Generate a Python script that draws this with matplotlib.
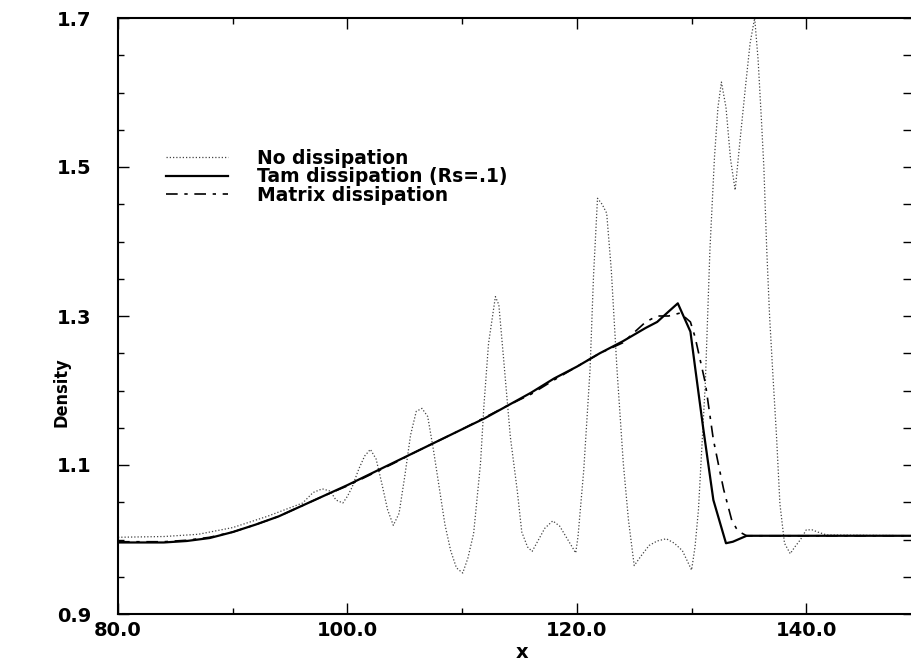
import matplotlib
matplotlib.use("Agg")
import matplotlib.pyplot as plt
from matplotlib.ticker import MultipleLocator, FixedLocator, FormatStrFormatter, NullFormatter

# No dissipation (dotted)
x_none = [80, 84, 87, 90, 93, 96.1, 97.0, 97.8, 98.5, 99.0,
          99.6, 100.0, 100.4, 101.0, 101.5, 102.0, 102.5, 103.0, 103.5, 104.0,
          104.5, 105.0, 105.5, 106.0, 106.5, 107.0, 107.5, 108.0, 108.5, 109.0,
          109.5, 110.05, 110.5, 111.0, 111.6, 111.9, 112.3, 112.9, 113.2, 113.6,
          114.2, 114.8, 115.2, 115.7, 116.1, 116.6, 117.2, 117.9, 118.5, 119.2,
          119.9, 120.1, 120.6, 121.15, 121.45, 121.8, 122.2, 122.6, 123.0, 123.5,
          124.05, 124.5, 125.0, 125.6, 126.3, 127.0, 127.8, 128.5, 129.2, 129.6,
          130.0, 130.3, 130.6, 131.2, 131.6, 132.0, 132.3, 132.6, 133.0, 133.4,
          133.8, 134.2, 134.7, 135.1, 135.5, 135.8, 136.1, 136.3, 136.55, 136.8,
          137.1, 137.4, 137.7, 138.1, 138.6, 139.0, 139.5, 140.0, 140.5, 141.0,
          141.8, 150]
y_none = [1.003, 1.004, 1.007, 1.016, 1.031, 1.049, 1.063, 1.068, 1.065, 1.053,
          1.049, 1.058, 1.070, 1.095, 1.112, 1.121, 1.108, 1.075, 1.040, 1.019,
          1.035, 1.085, 1.140, 1.172, 1.176, 1.165, 1.120, 1.070, 1.020, 0.985,
          0.962, 0.955, 0.975, 1.008, 1.102, 1.180, 1.263, 1.326, 1.315, 1.245,
          1.138, 1.066, 1.010, 0.990, 0.984, 0.998, 1.015, 1.025, 1.018, 1.000,
          0.982, 1.004, 1.093, 1.228, 1.353, 1.458, 1.450, 1.438, 1.362, 1.228,
          1.102, 1.026, 0.965, 0.978, 0.992, 0.998, 1.001, 0.995, 0.985, 0.972,
          0.959, 0.990, 1.040, 1.210, 1.389, 1.514, 1.580, 1.614, 1.580, 1.510,
          1.469, 1.532, 1.608, 1.666, 1.700, 1.644, 1.560, 1.500, 1.390, 1.300,
          1.218, 1.140, 1.048, 0.995, 0.981, 0.990, 1.000, 1.013, 1.013, 1.010,
          1.006, 1.005]

# Tam dissipation (solid)
x_tam = [80, 84, 86, 88, 90, 92, 94, 96, 98, 100,
         102, 104, 106, 108, 110, 112, 114, 116, 118, 120,
         122, 124, 126, 127, 128, 128.8, 129.9, 130.3, 131.0, 131.9,
         133.0, 133.6, 134.8, 150]
y_tam = [0.996, 0.996, 0.998, 1.002, 1.010, 1.020, 1.031, 1.045, 1.059, 1.073,
         1.088, 1.103, 1.118, 1.133, 1.148, 1.163, 1.180, 1.197, 1.216, 1.232,
         1.250, 1.266, 1.284, 1.292, 1.306, 1.317, 1.279, 1.232, 1.151, 1.053,
         0.995, 0.997, 1.005, 1.005]

# Matrix dissipation (dash-dot)
x_mat = [80, 84, 86, 88, 90, 92, 94, 96, 98, 100,
         102, 104, 106, 108, 110, 112, 114, 116, 118, 120,
         122, 124, 125, 126, 127, 128, 129.0, 129.9, 130.3, 131.2,
         131.9, 132.5, 132.8, 133.5, 133.9, 134.2, 134.8, 150]
y_mat = [0.997, 0.997, 0.999, 1.003, 1.010, 1.020, 1.031, 1.045, 1.059, 1.072,
         1.087, 1.102, 1.118, 1.133, 1.148, 1.164, 1.180, 1.195, 1.214, 1.232,
         1.250, 1.264, 1.278, 1.292, 1.300, 1.300, 1.304, 1.292, 1.272, 1.210,
         1.134, 1.089, 1.067, 1.026, 1.015, 1.010, 1.005, 1.005]

labels = ["No dissipation", "Tam dissipation (Rs=.1)", "Matrix dissipation"]
x_ticks = [80, 100, 120, 140]
y_ticks = [0.9, 1.1, 1.3, 1.5, 1.7]

plt.rcParams["font.family"] = ["DejaVu Sans"]
plt.rcParams["font.weight"] = "bold"

fig = plt.figure(figsize=(9.12, 6.63), dpi=100)
# right edge of the frame (x=150) falls just outside the picture, as in the scan
ax = fig.add_axes([118 / 912, 49 / 663, 803 / 912, 596 / 663])

ax.plot(x_none, y_none, color="#444444", linestyle=(0, (1, 1.6)), linewidth=0.9,
        label=labels[0])
ax.plot(x_tam, y_tam, color="black", linestyle="-", linewidth=1.6, label=labels[1])
ax.plot(x_mat, y_mat, color="black", linestyle=(0, (7, 4, 2, 4)), linewidth=1.2,
        label=labels[2])

ax.set_xlim(80, 150)
ax.set_ylim(0.9, 1.7)
ax.xaxis.set_major_locator(FixedLocator(x_ticks))
ax.xaxis.set_minor_locator(MultipleLocator(10))
ax.yaxis.set_major_locator(FixedLocator(y_ticks))
ax.yaxis.set_minor_locator(MultipleLocator(0.05))
ax.xaxis.set_major_formatter(FormatStrFormatter("%.1f"))
ax.yaxis.set_major_formatter(FormatStrFormatter("%.1f"))
ax.tick_params(which="both", direction="in", top=True, right=False, width=1.0)
ax.tick_params(which="major", length=8)
ax.tick_params(which="minor", length=4)
ax.tick_params(axis="y", which="major", pad=19, labelsize=14)
ax.tick_params(axis="x", which="major", pad=5, labelsize=14)
for side in ax.spines.values():
    side.set_linewidth(1.5)

# right-hand ticks poke in from the cropped frame edge
sec = ax.secondary_yaxis("right")
sec.yaxis.set_major_locator(MultipleLocator(0.05))
sec.yaxis.set_major_formatter(NullFormatter())
sec.tick_params(direction="in", length=13, width=1.0)

ax.set_xlabel("x", fontsize=14, fontweight="bold")
ax.xaxis.set_label_coords((522 - 118) / 803, -(643 - 614) / 596)
ax.set_ylabel("Density", fontsize=13, fontweight="bold", fontstretch="condensed",
              family=["DejaVu Sans"])
ax.yaxis.set_label_coords((71 - 118) / 803, (614 - 392) / 596)

ax.legend(loc="upper left", bbox_to_anchor=(166 / 912, 1 - 149 / 663),
          bbox_transform=fig.transFigure, frameon=False, fontsize=13.5,
          handlelength=3.3, handletextpad=1.55, labelspacing=-0.03, borderpad=0,
          borderaxespad=0)

fig.savefig("out.png", dpi=100)
